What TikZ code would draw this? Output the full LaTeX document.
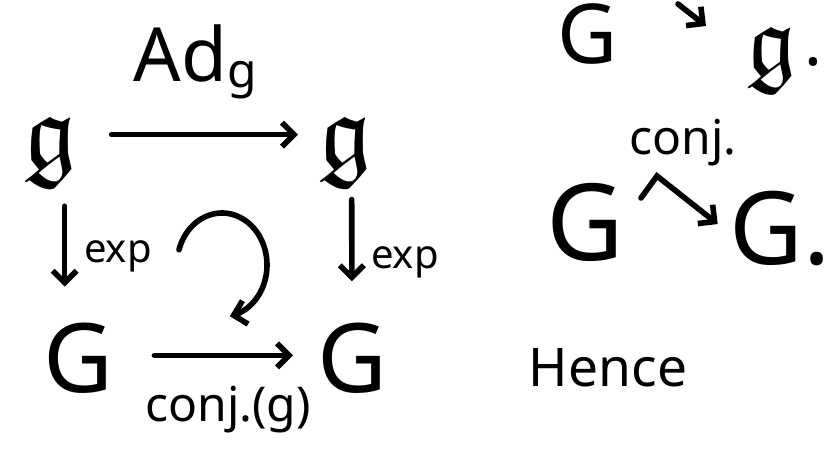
\documentclass[tikz,border=0pt]{standalone}
\usepackage{fontspec}
\setmainfont{Noto Sans}
\usepackage{amsfonts}
\usepackage{graphicx}
\usetikzlibrary{arrows.meta}

\newcommand{\liealg}[1]{\scalebox{#1}{$\mathfrak{g}$}}
\newcommand{\sz}[1]{\fontsize{#1}{#1}\selectfont}

\tikzset{
  arr/.style={line width=4.2pt, line cap=round, -{Straight Barb[length=9pt,width=18pt]}},
  grp/.style={inner sep=2pt, font=\sz{72}},
  bigrp/.style={inner sep=2pt, font=\sz{80}},
  lab/.style={inner sep=1pt, font=\sz{30}}
}

\begin{document}
\begin{tikzpicture}[x=0.75pt, y=-0.75pt, line width=4.2pt, line cap=round]
  \useasboundingbox (0,0) rectangle (832,466);

  % left square
  \node[inner sep=2pt] (gA) at (50,152) {\liealg{8}};
  \node[inner sep=2pt] (gB) at (345,152) {\liealg{8}};
  \node[grp] (GA) at (78,358) {G};
  \node[grp] (GB) at (352,358) {G};
  \node[inner sep=1pt, font=\sz{56}] (adg) at (195,62) {Ad\raisebox{-5pt}{\sz{36}g}};
  \node[lab, anchor=west] (expA) at (80,256) {exp};
  \node[lab, anchor=west] (expB) at (367,262) {exp};
  \node[lab, font=\sz{36}] (conjg) at (228,410) {conj.(g)};

  \draw[arr, shorten <=22pt, shorten >=11pt] ([yshift=13pt]gA.east) -- ([yshift=13pt]gB.west);
  \draw[arr, shorten <=10pt, shorten >=23pt] ([xshift=11pt]gA.south) -- ([xshift=-10pt]GA.north);
  \draw[arr, shorten <=5pt, shorten >=27pt] ([xshift=5pt]gB.south) -- (GB.north);
  \draw[arr, shorten <=27pt, shorten >=14pt] ([yshift=2pt]GA.east) -- ([yshift=2pt]GB.west);
  % the turning arrow in the middle
  \draw[arr] plot[domain=197:440, samples=40, smooth] ({222+45*cos(\x)}, {265+52*sin(\x)});

  % right column
  \node[inner sep=1pt, font=\sz{62}] (GT) at (588,34) {G};
  \node[inner sep=1pt] (gT) at (772,60) {\liealg{7.5}};
  \node[inner sep=0pt, font=\sz{50}, anchor=base west] (dotT) at (gT.east |- 0,66) {.};
  \coordinate (topTail) at (678,4);
  \coordinate (topHead) at (706,26);
  \draw[arr] (topTail) -- (topHead);

  \node[bigrp] (GC) at (585,222) {G};
  \node[bigrp, anchor=base west, font=\sz{76}] (GD) at (724,265) {G.};
  \node[lab, font=\sz{36}] (conj) at (683,143) {conj.};
  \coordinate (hook) at (641,198);
  \coordinate (bend) at (657,176);
  \draw[arr, shorten >=6pt] (hook) -- (bend) -- (GD.west);

  \node[inner sep=1pt, font=\sz{40}] (hence) at (608,368) {Hence};
\end{tikzpicture}
\end{document}
